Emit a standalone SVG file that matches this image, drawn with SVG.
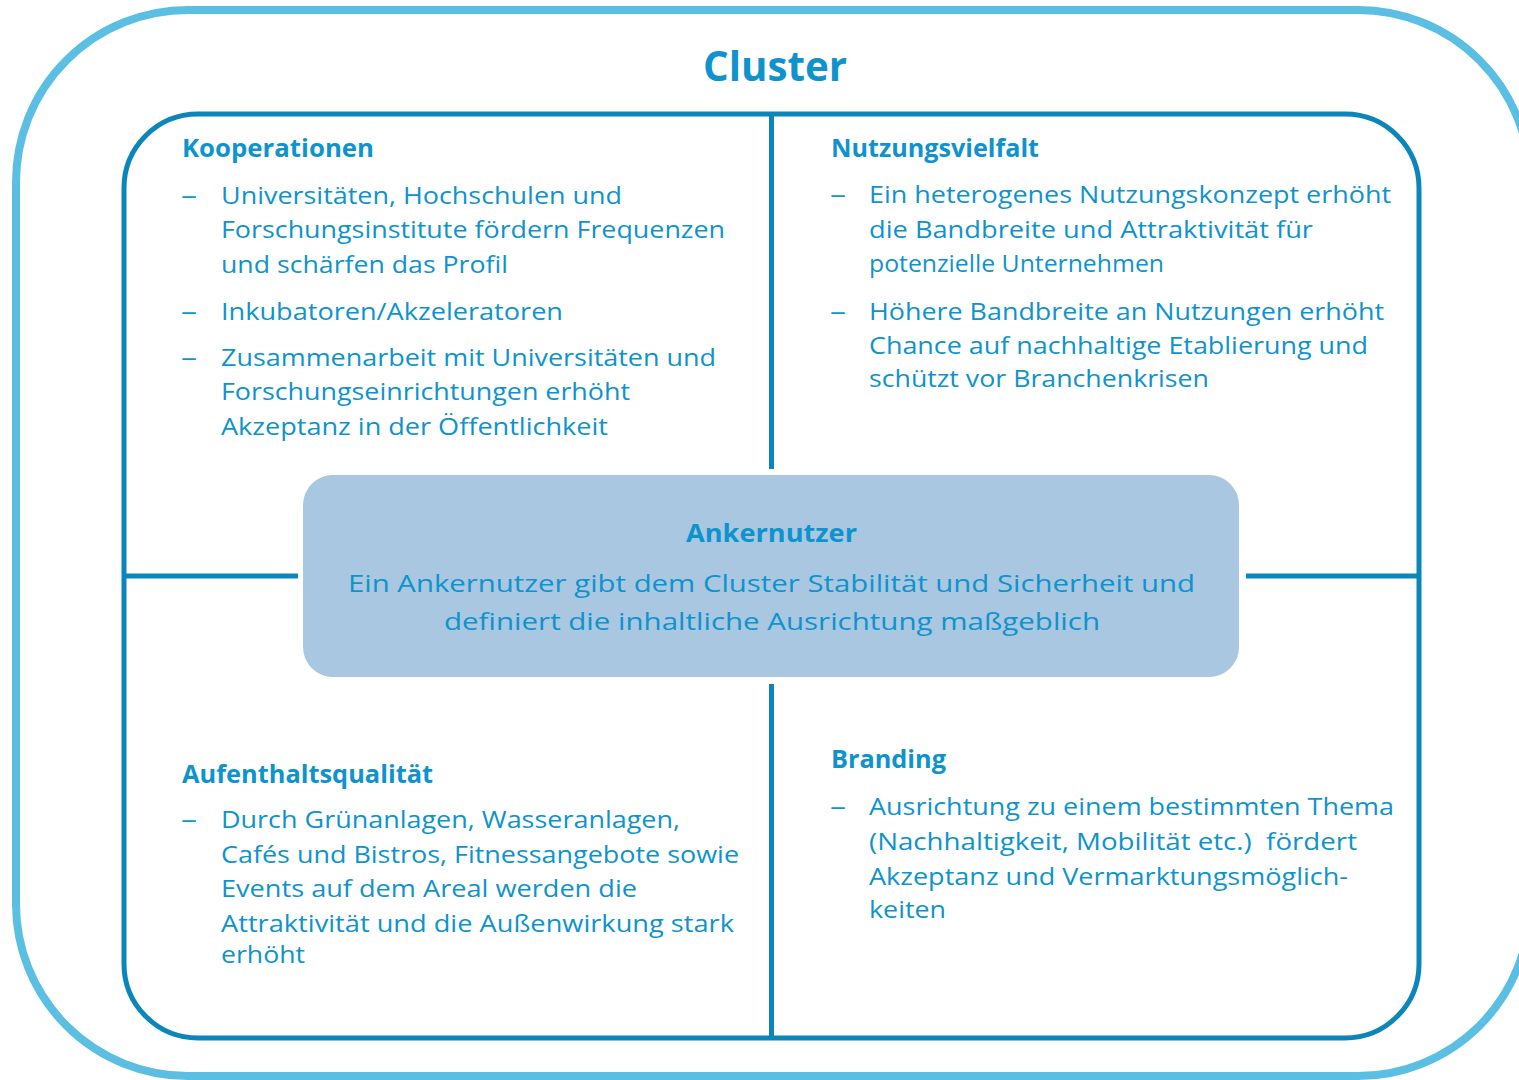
<svg xmlns="http://www.w3.org/2000/svg" width="1519" height="1080" viewBox="0 0 1519 1080">
  <style>
    .t { font-family: "Open Sans", "Noto Sans", "Liberation Sans", sans-serif; fill: #0e93cd; }
    .body { font-size: 23.5px; }
    .head { font-size: 25px; font-weight: 700; }
    .title { font-size: 41px; font-weight: 700; }
    .mid { font-size: 24.5px; }
    .midhead { font-size: 25.5px; font-weight: 700; }
    .frame { fill: none; stroke: #0b86ba; stroke-width: 5; }
    .div { stroke: #0b86ba; stroke-width: 5; fill: none; }
  </style>

  <rect width="1519" height="1080" fill="#ffffff"/>

  <!-- outer cluster frame -->
  <g id="cluster">
    <rect x="16" y="10" width="1514" height="1066" rx="172" ry="172" fill="none" stroke="#5bbfe4" stroke-width="8"/>
    <text class="t title" x="703" y="81" textLength="144" lengthAdjust="spacingAndGlyphs">Cluster</text>
  </g>

  <!-- inner frame -->
  <rect id="frame" class="frame" x="124" y="114" width="1295" height="924" rx="74" ry="74"/>

  <!-- dividing lines between the quadrants -->
  <g id="connectors">
    <line class="div" x1="771.5" y1="114" x2="771.5" y2="469"/>
    <line class="div" x1="771.5" y1="684" x2="771.5" y2="1038"/>
    <line class="div" x1="124" y1="576" x2="298" y2="576"/>
    <line class="div" x1="1246" y1="576" x2="1419" y2="576"/>
  </g>

  <!-- top left -->
  <g id="kooperationen">
    <text class="t head" x="182" y="157" textLength="192" lengthAdjust="spacingAndGlyphs">Kooperationen</text>
    <text class="t body" x="181" y="204" textLength="16" lengthAdjust="spacingAndGlyphs">–</text>
    <text class="t body" x="221" y="204" textLength="401" lengthAdjust="spacingAndGlyphs">Universitäten, Hochschulen und</text>
    <text class="t body" x="221" y="238" textLength="504" lengthAdjust="spacingAndGlyphs">Forschungsinstitute fördern Frequenzen</text>
    <text class="t body" x="221" y="273" textLength="287" lengthAdjust="spacingAndGlyphs">und schärfen das Profil</text>
    <text class="t body" x="181" y="320" textLength="16" lengthAdjust="spacingAndGlyphs">–</text>
    <text class="t body" x="221" y="320" textLength="342" lengthAdjust="spacingAndGlyphs">Inkubatoren/Akzeleratoren</text>
    <text class="t body" x="181" y="366" textLength="16" lengthAdjust="spacingAndGlyphs">–</text>
    <text class="t body" x="221" y="366" textLength="495" lengthAdjust="spacingAndGlyphs">Zusammenarbeit mit Universitäten und</text>
    <text class="t body" x="221" y="400" textLength="409" lengthAdjust="spacingAndGlyphs">Forschungseinrichtungen erhöht</text>
    <text class="t body" x="221" y="435" textLength="387" lengthAdjust="spacingAndGlyphs">Akzeptanz in der Öffentlichkeit</text>
  </g>

  <!-- top right -->
  <g id="nutzungsvielfalt">
    <text class="t head" x="831" y="157" textLength="208" lengthAdjust="spacingAndGlyphs">Nutzungsvielfalt</text>
    <text class="t body" x="830" y="203" textLength="16" lengthAdjust="spacingAndGlyphs">–</text>
    <text class="t body" x="869" y="203" textLength="522" lengthAdjust="spacingAndGlyphs">Ein heterogenes Nutzungskonzept erhöht</text>
    <text class="t body" x="869" y="238" textLength="444" lengthAdjust="spacingAndGlyphs">die Bandbreite und Attraktivität für</text>
    <text class="t body" x="869" y="272" textLength="295" lengthAdjust="spacingAndGlyphs">potenzielle Unternehmen</text>
    <text class="t body" x="830" y="320" textLength="16" lengthAdjust="spacingAndGlyphs">–</text>
    <text class="t body" x="869" y="320" textLength="515" lengthAdjust="spacingAndGlyphs">Höhere Bandbreite an Nutzungen erhöht</text>
    <text class="t body" x="869" y="354" textLength="499" lengthAdjust="spacingAndGlyphs">Chance auf nachhaltige Etablierung und</text>
    <text class="t body" x="869" y="387" textLength="340" lengthAdjust="spacingAndGlyphs">schützt vor Branchenkrisen</text>
  </g>

  <!-- centre -->
  <g id="ankernutzer">
    <rect x="303" y="475" width="936" height="202" rx="30" ry="30" fill="#a9c7e1"/>
    <text class="t midhead" x="686" y="542" textLength="171" lengthAdjust="spacingAndGlyphs">Ankernutzer</text>
    <text class="t mid" x="348" y="592" textLength="847" lengthAdjust="spacingAndGlyphs">Ein Ankernutzer gibt dem Cluster Stabilität und Sicherheit und</text>
    <text class="t mid" x="444" y="630" textLength="656" lengthAdjust="spacingAndGlyphs">definiert die inhaltliche Ausrichtung maßgeblich</text>
  </g>

  <!-- bottom left -->
  <g id="aufenthaltsqualitaet">
    <text class="t head" x="182" y="783" textLength="251" lengthAdjust="spacingAndGlyphs">Aufenthaltsqualität</text>
    <text class="t body" x="181" y="828" textLength="16" lengthAdjust="spacingAndGlyphs">–</text>
    <text class="t body" x="221" y="828" textLength="459" lengthAdjust="spacingAndGlyphs">Durch Grünanlagen, Wasseranlagen,</text>
    <text class="t body" x="221" y="863" textLength="518" lengthAdjust="spacingAndGlyphs">Cafés und Bistros, Fitnessangebote sowie</text>
    <text class="t body" x="221" y="897" textLength="416" lengthAdjust="spacingAndGlyphs">Events auf dem Areal werden die</text>
    <text class="t body" x="221" y="932" textLength="513" lengthAdjust="spacingAndGlyphs">Attraktivität und die Außenwirkung stark</text>
    <text class="t body" x="221" y="963" textLength="84" lengthAdjust="spacingAndGlyphs">erhöht</text>
  </g>

  <!-- bottom right -->
  <g id="branding">
    <text class="t head" x="831" y="768" textLength="115" lengthAdjust="spacingAndGlyphs">Branding</text>
    <text class="t body" x="830" y="815" textLength="16" lengthAdjust="spacingAndGlyphs">–</text>
    <text class="t body" x="869" y="815" textLength="525" lengthAdjust="spacingAndGlyphs">Ausrichtung zu einem bestimmten Thema</text>
    <text class="t body" x="869" y="850" textLength="488" lengthAdjust="spacingAndGlyphs" xml:space="preserve">(Nachhaltigkeit, Mobilität etc.)  fördert</text>
    <text class="t body" x="869" y="885" textLength="479" lengthAdjust="spacingAndGlyphs">Akzeptanz und Vermarktungsmöglich-</text>
    <text class="t body" x="869" y="918" textLength="77" lengthAdjust="spacingAndGlyphs">keiten</text>
  </g>
</svg>
